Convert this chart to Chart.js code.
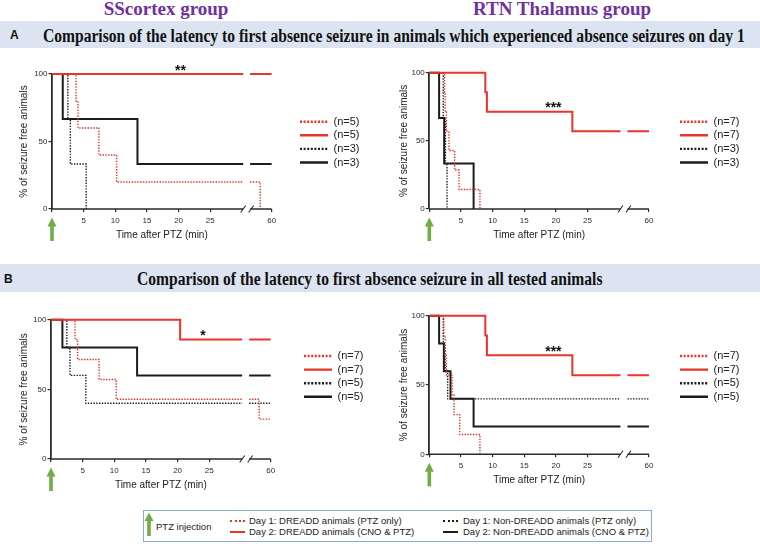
<!DOCTYPE html>
<html lang="en">
<head>
<meta charset="utf-8">
<title>Latency to first absence seizure</title>
<script src="https://cdn.jsdelivr.net/npm/chart.js@4.4.1/dist/chart.umd.min.js"></script>
<style>
  body { margin: 0; background: #fff; }
  #page { position: relative; width: 760px; height: 544px; overflow: hidden; font-family: "Liberation Sans", Arial, sans-serif; color: #222; }
  #page div, #page canvas, #page svg { position: absolute; }
  .group { top: -1px; font: bold 19px/19px "Liberation Serif", "Times New Roman", serif; color: #7030a0; white-space: nowrap; transform: translateX(-50%); }
  .band { left: 0; width: 760px; background: #dbe4f0; }
  .tag { font: bold 12px/12px "Liberation Sans", Arial, sans-serif; color: #111; }
  .ttl { font: bold 18px/18px "Liberation Serif", "Times New Roman", serif; color: #111; white-space: nowrap; transform: scaleX(0.865); transform-origin: 0 0; }
  .key { left: 143px; top: 510px; width: 509px; height: 32px; box-sizing: border-box; border: 1px solid #8eaadb; }
  .ktxt { font-size: 9.5px; line-height: 12px; white-space: nowrap; color: #222; }
  .ksample { width: 15px; height: 0; }
</style>
</head>
<body>
<div id="page">
  <div class="group" style="left:166px">SScortex group</div>
  <div class="group" style="left:562px">RTN Thalamus group</div>

  <div class="band" style="top:21px;height:27px"></div>
  <div class="tag" style="left:10px;top:29px">A</div>
  <div class="ttl" style="left:43px;top:26.6px">Comparison of the latency to first absence seizure in animals which experienced absence seizures on day 1</div>

  <div class="band" style="top:264px;height:28px"></div>
  <div class="tag" style="left:4px;top:273px">B</div>
  <div class="ttl" style="left:137px;top:270px">Comparison of the latency to first absence seizure in all tested animals</div>

  <canvas id="aCortex"></canvas>
  <canvas id="aRtn"></canvas>
  <canvas id="bCortex"></canvas>
  <canvas id="bRtn"></canvas>

  <div class="key"></div>
  <svg style="left:144px;top:512px" width="10" height="24">
    <polygon points="0.5,9 5,0.5 9.5,9" fill="#70ad47"/>
    <rect x="3.2" y="8" width="3.6" height="16" fill="#70ad47"/>
  </svg>
  <div class="ktxt" style="left:156px;top:520.5px">PTZ injection</div>
  <div class="ksample" style="left:230px;top:520px;border-top:2px dotted #e9342a"></div>
  <div class="ksample" style="left:230px;top:531px;border-top:2px solid #e9342a"></div>
  <div class="ksample" style="left:443px;top:520px;border-top:2px dotted #1c1c1c"></div>
  <div class="ksample" style="left:443px;top:531px;border-top:2px solid #1c1c1c"></div>
  <div class="ktxt" id="k0" style="left:249px;top:515px"></div>
  <div class="ktxt" id="k1" style="left:249px;top:526px"></div>
  <div class="ktxt" id="k2" style="left:463px;top:515px"></div>
  <div class="ktxt" id="k3" style="left:463px;top:526px"></div>
</div>

<script>
// series order: Day 1 DREADD, Day 2 DREADD, Day 1 non-DREADD, Day 2 non-DREADD
const seriesNames = ['Day 1: DREADD animals (PTZ only)', 'Day 2: DREADD animals (CNO & PTZ)',
                     'Day 1: Non-DREADD animals (PTZ only)', 'Day 2: Non-DREADD animals (CNO & PTZ)'];

// Kaplan-Meier steps: [minute, % seizure free after the step]
const aCortexDay1Dreadd = [[3.8, 80], [4.1, 60], [7.4, 40], [10.2, 20], [44, 0]];
const aCortexDay2Dreadd = [];
const aCortexDay1Non = [[2.5, 66.7], [2.9, 33.3], [5.4, 0]];
const aCortexDay2Non = [[1.7, 66.7], [13.5, 33.3]];
const aCortexN = ['(n=5)', '(n=5)', '(n=3)', '(n=3)'];

const aRtnDay1Dreadd = [[2.4, 85.7], [2.5, 71.4], [2.7, 57.1], [3.1, 42.9], [4.0, 28.6], [4.7, 14.3], [8.0, 0]];
const aRtnDay2Dreadd = [[8.85, 85.7], [9.1, 71.4], [22.6, 57.1]];
const aRtnDay1Non = [[2.2, 66.7], [2.55, 33.3], [2.8, 0]];
const aRtnDay2Non = [[1.55, 66.7], [2.35, 33.3], [7.0, 0]];
const aRtnN = ['(n=7)', '(n=7)', '(n=3)', '(n=3)'];

const bCortexDay1Dreadd = [[3.8, 85.7], [4.2, 71.4], [7.6, 57.1], [10.3, 42.9], [44, 28.6]];
const bCortexDay2Dreadd = [[20.4, 85.7]];
const bCortexDay1Non = [[2.5, 80], [3.0, 60], [5.5, 40]];
const bCortexDay2Non = [[1.8, 80], [13.6, 60]];
const bCortexN = ['(n=7)', '(n=7)', '(n=5)', '(n=5)'];

const bRtnDay1Dreadd = [[2.3, 85.7], [2.5, 71.4], [2.7, 57.1], [3.6, 42.9], [3.9, 28.6], [4.8, 14.3], [8.0, 0]];
const bRtnDay2Dreadd = [[8.85, 85.7], [9.1, 71.4], [22.6, 57.1]];
const bRtnDay1Non = [[2.2, 80], [2.5, 60], [2.9, 40]];
const bRtnDay2Non = [[1.55, 80], [2.3, 60], [3.35, 40], [7.0, 20]];
const bRtnN = ['(n=7)', '(n=7)', '(n=5)', '(n=5)'];

// significance marks: [text, minute, % level]
const aCortexStar = ['**', 20.3, 100];
const aRtnStar = ['***', 19.6, 71.4];
const bCortexStar = ['*', 24, 85.7];
const bRtnStar = ['***', 19.6, 71.4];

const xTickMinutes = [0, 5, 10, 15, 20, 25, 60];
const xTickLabels = ['', '5', '10', '15', '20', '25', '60'];
const yTicks = [0, 50, 100];

// broken time axis: 0-30 min linear, then 30-60 min squeezed after the break
const BREAK = 30, SEG1_END = 30.2, SEG2_START = 31.3, SEG2_END = 34.7;
function toAxis(t) {
  return t <= BREAK ? t : SEG2_START + (t - BREAK) * (SEG2_END - SEG2_START) / (60 - BREAK);
}

function kmPoints(events) {
  const pts = [{x: 0, y: 100}];
  let v = 100;
  for (const [t, val] of events) {
    if (t > BREAK) continue;
    pts.push({x: toAxis(t), y: val});
    v = val;
    if (val === 0) return pts;
  }
  pts.push({x: SEG1_END, y: v});
  pts.push({x: (SEG1_END + SEG2_START) / 2, y: null});
  pts.push({x: SEG2_START, y: v});
  for (const [t, val] of events) {
    if (t <= BREAK) continue;
    pts.push({x: toAxis(t), y: val});
    v = val;
    if (val === 0) return pts;
  }
  pts.push({x: SEG2_END, y: v});
  return pts;
}

const RED = '#e9342a', BLACK = '#1c1c1c', AXIS = '#2b2b2b', GREEN = '#70ad47';
const seriesStyle = [
  {color: RED, dash: [1.4, 1.4], width: 1.4},
  {color: RED, dash: [], width: 2},
  {color: BLACK, dash: [1.4, 1.4], width: 1.4},
  {color: BLACK, dash: [], width: 2}
];

Chart.defaults.font.family = '"Liberation Sans", Arial, sans-serif';

const panelDecor = {
  id: 'panelDecor',
  beforeDatasetsDraw(chart) {
    const {ctx, scales: {x, y}} = chart;
    const y0 = y.getPixelForValue(0);
    ctx.save();
    ctx.strokeStyle = AXIS;
    ctx.lineWidth = 1.6;
    ctx.beginPath();
    ctx.moveTo(x.getPixelForValue(0), y0);
    ctx.lineTo(x.getPixelForValue(SEG1_END), y0);
    ctx.moveTo(x.getPixelForValue(SEG2_START), y0);
    ctx.lineTo(x.getPixelForValue(SEG2_END), y0);
    ctx.stroke();
    ctx.lineWidth = 1.1;
    ctx.beginPath();
    [x.getPixelForValue(SEG1_END), x.getPixelForValue(SEG2_START) + 1].forEach(px => {
      ctx.moveTo(px - 2.5, y0 + 3.5);
      ctx.lineTo(px + 2.5, y0 - 3.5);
    });
    ctx.stroke();
    ctx.restore();
  },
  afterDraw(chart, args, opts) {
    const {ctx, scales: {x, y}} = chart;
    const y0 = y.getPixelForValue(0);
    const x0 = x.getPixelForValue(0);
    ctx.save();
    // axis title, centred on the drawn axis
    ctx.fillStyle = '#222';
    ctx.font = '10px "Liberation Sans", Arial, sans-serif';
    ctx.textAlign = 'center';
    ctx.textBaseline = 'middle';
    ctx.fillText('Time after PTZ (min)', (x0 + x.getPixelForValue(SEG2_END)) / 2, y0 + 26);
    // PTZ injection arrow
    ctx.fillStyle = GREEN;
    const tip = y0 + 8.5;
    ctx.beginPath();
    ctx.moveTo(x0 - 4.5, tip + 9);
    ctx.lineTo(x0, tip);
    ctx.lineTo(x0 + 4.5, tip + 9);
    ctx.closePath();
    ctx.fill();
    ctx.fillRect(x0 - 1.8, tip + 8, 3.6, 15.5);
    // significance stars
    const [txt, m, lvl] = opts.star;
    ctx.fillStyle = '#111';
    ctx.font = 'bold 14px "Liberation Sans", Arial, sans-serif';
    ctx.textBaseline = 'alphabetic';
    ctx.fillText(txt, x.getPixelForValue(toAxis(m)), y.getPixelForValue(lvl) + 0.5);
    ctx.restore();
  }
};

const panels = [
  {id: 'aCortex', left: 0, L: 52, T: 74, R: 297.4, B: 209, first: 121.7,
   series: [aCortexDay1Dreadd, aCortexDay2Dreadd, aCortexDay1Non, aCortexDay2Non], n: aCortexN, star: aCortexStar},
  {id: 'aRtn', left: 380, L: 429.3, T: 72.7, R: 677.4, B: 209, first: 121.7,
   series: [aRtnDay1Dreadd, aRtnDay2Dreadd, aRtnDay1Non, aRtnDay2Non], n: aRtnN, star: aRtnStar},
  {id: 'bCortex', left: 0, L: 51, T: 319.7, R: 301.4, B: 459, first: 356,
   series: [bCortexDay1Dreadd, bCortexDay2Dreadd, bCortexDay1Non, bCortexDay2Non], n: bCortexN, star: bCortexStar},
  {id: 'bRtn', left: 380, L: 429.3, T: 315.7, R: 677.4, B: 454.3, first: 356,
   series: [bRtnDay1Dreadd, bRtnDay2Dreadd, bRtnDay1Non, bRtnDay2Non], n: bRtnN, star: bRtnStar}
];

const PX_PER_MIN = 6.33, LEGEND_W = 64, ITEM_PAD = 2.6, LEGEND_FONT = 11;

panels.forEach(p => {
  const cv = document.getElementById(p.id);
  const top = Math.floor(p.T - 12);
  const height = Math.ceil(p.B + 43 - top);
  cv.width = 380;
  cv.height = height;
  cv.style.left = p.left + 'px';
  cv.style.top = top + 'px';

  new Chart(cv, {
    type: 'line',
    data: {
      datasets: p.series.map((ev, i) => ({
        label: p.n[i],
        data: kmPoints(ev),
        borderColor: seriesStyle[i].color,
        backgroundColor: seriesStyle[i].color,
        borderDash: seriesStyle[i].dash,
        borderWidth: seriesStyle[i].width,
        borderCapStyle: 'butt',
        borderJoinStyle: 'miter',
        stepped: true,
        pointRadius: 0,
        fill: false,
        spanGaps: false,
        clip: 6
      }))
    },
    options: {
      responsive: false,
      animation: false,
      events: [],
      layout: {padding: {top: p.T - top, right: p.left + 380 - p.R - LEGEND_W, left: 0, bottom: 0}},
      scales: {
        x: {
          type: 'linear', min: 0, max: (p.R - p.L) / PX_PER_MIN,
          afterBuildTicks: s => { s.ticks = xTickMinutes.map(m => ({value: toAxis(m)})); },
          afterFit: s => { s.height = top + height - p.B; },
          ticks: {autoSkip: false, maxRotation: 0, padding: 4, font: {size: 8}, color: AXIS,
                  callback: (v, i) => xTickLabels[i]},
          grid: {drawOnChartArea: false, tickLength: 3, color: AXIS, lineWidth: 1.2},
          border: {display: false}
        },
        y: {
          min: 0, max: 100,
          afterBuildTicks: s => { s.ticks = yTicks.map(v => ({value: v})); },
          afterFit: s => { s.width = p.L - p.left; },
          ticks: {padding: 1, font: {size: 8}, color: AXIS},
          grid: {drawOnChartArea: false, tickLength: 3.5, color: AXIS, lineWidth: 1.2},
          border: {display: true, color: AXIS, width: 1.8},
          title: {display: true, text: '% of seizure free animals', color: '#222', font: {size: 10},
                  padding: {top: 18, bottom: 0}}
        }
      },
      plugins: {
        tooltip: {enabled: false},
        legend: {
          position: 'right', align: 'start', fullSize: false, maxWidth: LEGEND_W,
          title: {display: true, text: ' ', font: {size: 1},
                  padding: {top: p.first - p.T - ITEM_PAD - LEGEND_FONT / 2 - 1.2, bottom: 0}},
          labels: {
            usePointStyle: true, pointStyle: 'line', pointStyleWidth: 28,
            padding: ITEM_PAD, color: '#222', font: {size: LEGEND_FONT},
            generateLabels(chart) {
              const items = Chart.defaults.plugins.legend.labels.generateLabels(chart);
              items.forEach(it => {
                const st = seriesStyle[it.datasetIndex];
                it.lineWidth = 2.4;
                it.strokeStyle = st.color;
                it.lineDash = st.dash.length ? [2, 1.6] : [];
              });
              return items;
            }
          }
        },
        panelDecor: {star: p.star}
      }
    },
    plugins: [panelDecor]
  });
});

seriesNames.forEach((name, i) => { document.getElementById('k' + i).textContent = name; });
</script>
</body>
</html>
